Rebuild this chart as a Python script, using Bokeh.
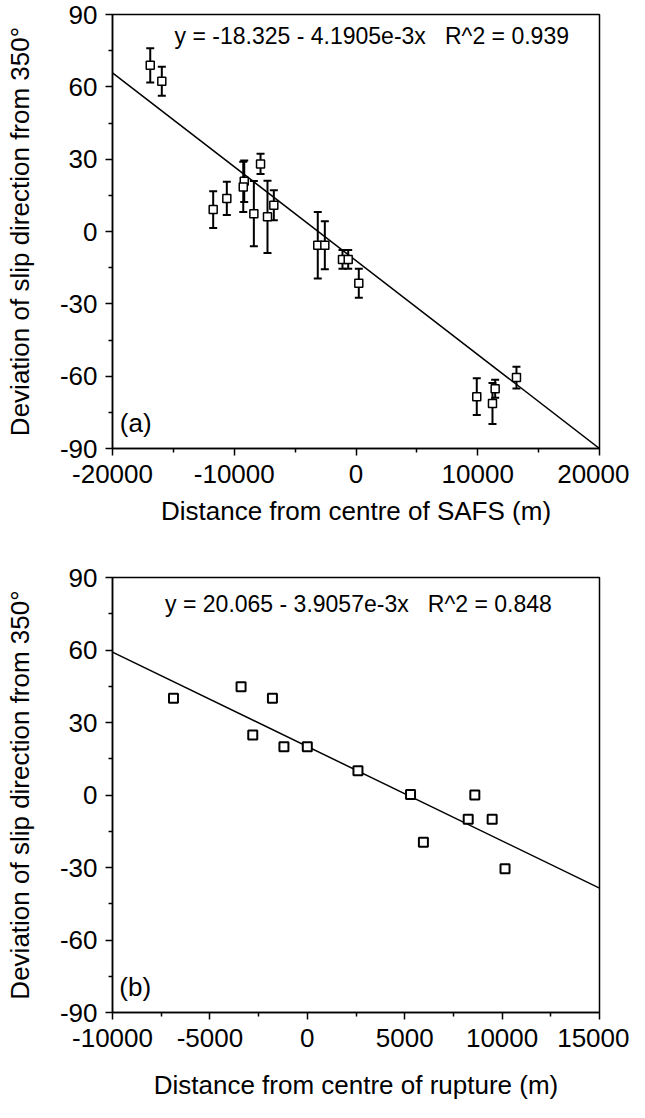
from bokeh.plotting import figure
from bokeh.models import (ColumnDataSource, Whisker, TeeHead, FixedTicker, Label, Range1d,
                          PrintfTickFormatter)
from bokeh.layouts import column
from bokeh.embed import file_html
from bokeh.resources import INLINE

FONT = "Liberation Sans"
NB = "\u00a0"

# ---------------- data: panel (a) ----------------
a_x = [-16900, -15950, -11730, -10610, -9180, -9260, -7840, -8390, -7270, -6750,
       -3140, -2560, -1110, -640, 230, 9920, 11210, 11430, 13180]
a_y = [68.9, 62.3, 9.1, 13.7, 20.8, 18.5, 28.0, 7.4, 6.1, 10.9,
       -5.7, -5.7, -11.6, -11.6, -21.5, -68.5, -71.3, -65.2, -60.6]
a_err = [7.1, 6.0, 7.6, 6.9, 8.6, 10.4, 4.2, 13.5, 15.0, 6.2,
         13.8, 10.0, 3.9, 3.9, 6.0, 7.6, 8.5, 3.7, 4.5]
a_fit_x = [-20000, 20000]
a_fit_y = [65.8, -90.0]
a_eq = "y = -18.325 - 4.1905e-3x   R^2 = 0.939"
a_xticks = [-20000, -10000, 0, 10000, 20000]
a_xminor = [-15000, -5000, 5000, 15000]
a_xlabel = "Distance from centre of SAFS (m)"

# ---------------- data: panel (b) ----------------
b_x = [-6870, -3400, -2800, -1790, -1200, 0, 2600, 5300, 5960, 8260, 8600, 9490, 10150]
b_y = [40.0, 44.8, 24.8, 40.0, 20.0, 20.0, 10.0, 0.2, -19.6, -10.0, 0.0, -10.0, -30.5]
b_intercept = 20.065
b_slope = -3.9057e-3
b_fit_x = [-10000, 15000]
b_eq = "y = 20.065 - 3.9057e-3x   R^2 = 0.848"
b_xticks = [-10000, -5000, 0, 5000, 10000, 15000]
b_xminor = [-7500, -2500, 2500, 7500, 12500]
b_xlabel = "Distance from centre of rupture (m)"

yticks = [-90, -60, -30, 0, 30, 60, 90]
yminor = [-75, -45, -15, 15, 45, 75]
ylabel = "Deviation of slip direction from 350\u00b0"


def style(p, xt, xm, xlabel, x_lab_standoff, x_title_standoff):
    p.xgrid.visible = False
    p.ygrid.visible = False
    p.outline_line_color = "black"
    p.outline_line_width = 1.5
    p.xaxis.ticker = FixedTicker(ticks=xt, minor_ticks=xm)
    p.yaxis.ticker = FixedTicker(ticks=yticks, minor_ticks=yminor)
    p.xaxis.formatter = PrintfTickFormatter(format="%d")
    p.yaxis.formatter = PrintfTickFormatter(format="%d")
    for ax in (p.xaxis[0], p.yaxis[0]):
        ax.axis_line_color = "black"
        ax.axis_line_width = 1.5
        ax.major_tick_line_width = 1.5
        ax.minor_tick_line_width = 1.5
        ax.major_tick_out = 7
        ax.major_tick_in = 0
        ax.minor_tick_out = 4
        ax.minor_tick_in = 0
        ax.major_label_text_font = FONT
        ax.major_label_text_font_size = "26px"
        ax.major_label_text_color = "black"
        ax.axis_label_text_font = FONT
        ax.axis_label_text_font_style = "normal"
        ax.axis_label_text_color = "black"
        ax.axis_label_text_font_size = "26px"
    p.xaxis.axis_label = xlabel
    p.yaxis.axis_label = ylabel
    p.xaxis.major_label_standoff = x_lab_standoff
    p.xaxis.axis_label_standoff = x_title_standoff
    p.yaxis.major_label_standoff = 8
    p.yaxis.axis_label_standoff = 22


def eq_text(s):
    return s.replace("   ", NB * 3)


# ---------------- panel (a) ----------------
p1 = figure(width=629, height=528, output_backend="svg", toolbar_location=None,
            x_range=Range1d(-20000, 20000), y_range=Range1d(-90, 90),
            min_border_left=112, min_border_right=30, min_border_top=14, min_border_bottom=80)
style(p1, a_xticks, a_xminor, a_xlabel, 9, 10)
src_a = ColumnDataSource(dict(x=a_x, y=a_y,
                              lo=[y - e for y, e in zip(a_y, a_err)],
                              hi=[y + e for y, e in zip(a_y, a_err)]))
p1.line(a_fit_x, a_fit_y, line_color="black", line_width=1.5)
wa = Whisker(source=src_a, base="x", upper="hi", lower="lo", dimension="height",
             line_color="black", line_width=2,
             upper_head=TeeHead(size=8, line_width=2, line_color="black"),
             lower_head=TeeHead(size=8, line_width=2, line_color="black"))
p1.add_layout(wa)
p1.scatter("x", "y", source=src_a, marker="square", size=8, fill_color="white",
           line_color="black", line_width=1.5)
p1.add_layout(Label(x=-14900, y=81, text=eq_text(a_eq), text_font=FONT, text_font_size="23px",
                    text_baseline="middle", text_align="left", text_color="black"))
p1.add_layout(Label(x=-19400, y=-85.5, text="(a)", text_font=FONT, text_font_size="26px",
                    text_baseline="bottom", text_align="left", text_color="black"))

# ---------------- panel (b) ----------------
p2 = figure(width=629, height=574, output_backend="svg", toolbar_location=None,
            x_range=Range1d(-10000, 15000), y_range=Range1d(-90, 90),
            min_border_left=112, min_border_right=30, min_border_top=49, min_border_bottom=88)
style(p2, b_xticks, b_xminor, b_xlabel, 9, 20)
p2.line(b_fit_x, [b_intercept + b_slope * x for x in b_fit_x], line_color="black", line_width=1.5)
p2.scatter(b_x, b_y, marker="square", size=9, fill_color="white",
           line_color="black", line_width=2)
p2.add_layout(Label(x=-7300, y=79, text=eq_text(b_eq), text_font=FONT, text_font_size="23px",
                    text_baseline="middle", text_align="left", text_color="black"))
p2.add_layout(Label(x=-9650, y=-85.5, text="(b)", text_font=FONT, text_font_size="26px",
                    text_baseline="bottom", text_align="left", text_color="black"))

layout = column(p1, p2, spacing=0)
open("out.html", "w").write(file_html(layout, INLINE))
